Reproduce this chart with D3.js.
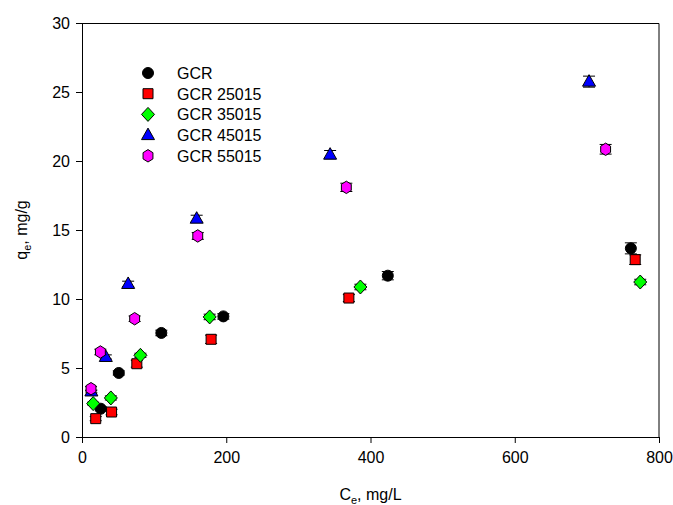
<!DOCTYPE html>
<html>
<head>
<meta charset="utf-8">
<script src="https://cdn.jsdelivr.net/npm/d3@7"></script>
<style>
    body { margin: 0; background: #fff; }
    #chart-area { width: 673px; height: 505px; }
    text { font-family: "Liberation Sans", Arial, sans-serif; fill: #000; }
</style>
</head>
<body>
<div id="chart-area"></div>
<script>
// series names (legend order)
const seriesNames = ["GCR", "GCR 25015", "GCR 35015", "GCR 45015", "GCR 55015"];

// Ce (mg/L) values
const gcrCe = [26, 51, 110, 196, 424, 761];
const gcr25Ce = [19, 41, 76, 179, 370, 767];
const gcr35Ce = [15.5, 40, 81, 177, 386, 774];
const gcr45Ce = [13, 33, 64, 159, 344, 703];
const gcr55Ce = [12.5, 25.5, 73, 160.5, 366.5, 726];

// qe (mg/g) values
const gcrQe = [2.05, 4.64, 7.54, 8.74, 11.69, 13.67];
const gcr25Qe = [1.33, 1.81, 5.31, 7.08, 10.07, 12.85];
const gcr35Qe = [2.42, 2.83, 5.92, 8.70, 10.87, 11.23];
const gcr45Qe = [3.3, 5.8, 11.09, 15.82, 20.46, 25.75];
const gcr55Qe = [3.50, 6.16, 8.57, 14.57, 18.09, 20.85];

// qe error (mg/g)
const gcrErr = [0.15, 0.15, 0.2, 0.2, 0.3, 0.4];
const gcr25Err = [0.15, 0.2, 0.25, 0.3, 0.25, 0.35];
const gcr35Err = [0.1, 0.15, 0.15, 0.2, 0.2, 0.2];
const gcr45Err = [0.1, 0.15, 0.2, 0.25, 0.3, 0.4];
const gcr55Err = [0.15, 0.2, 0.2, 0.25, 0.3, 0.35];

// axis ticks
const xTicks = [0, 200, 400, 600, 800];
const yTicks = [0, 5, 10, 15, 20, 25, 30];

class IsothermVis {
    constructor(_parentElement, _data) {
        this.parentElement = _parentElement;
        this.data = _data;
        this.initVis();
    }

    initVis() {
        const vis = this;

        // margins so the plot box lands where the original one does
        vis.margin = { top: 23, right: 14, bottom: 68, left: 82 };
        vis.width = 673 - vis.margin.left - vis.margin.right;
        vis.height = 505 - vis.margin.top - vis.margin.bottom;

        vis.svg = d3.select(`#${vis.parentElement}`)
            .append("svg")
            .attr("width", 673)
            .attr("height", 505)
            .append("g")
            .attr("transform", `translate(${vis.margin.left},${vis.margin.top})`);

        // scales
        vis.xScale = d3.scaleLinear().domain([0, 800]).range([0, vis.width]);
        vis.yScale = d3.scaleLinear().domain([0, 30]).range([vis.height, 0]);

        // frame (top and right)
        vis.svg.append("path")
            .attr("d", `M0,0.5H${vis.width}V${vis.height}`)
            .attr("fill", "none")
            .attr("stroke", "#000")
            .attr("stroke-width", 1);

        // axes
        vis.xAxis = vis.svg.append("g")
            .attr("transform", `translate(0,${vis.height})`)
            .call(d3.axisBottom(vis.xScale).tickValues(xTicks).tickSizeInner(6).tickSizeOuter(0).tickPadding(9));
        vis.yAxis = vis.svg.append("g")
            .call(d3.axisLeft(vis.yScale).tickValues(yTicks).tickSizeInner(6).tickSizeOuter(0).tickPadding(6));

        vis.svg.selectAll(".tick text")
            .attr("font-size", "16px")
            .attr("font-family", "'Liberation Sans', Arial, sans-serif");
        vis.svg.selectAll(".domain, .tick line").attr("stroke", "#000");

        // x axis label
        const xLabel = vis.svg.append("text")
            .attr("text-anchor", "middle")
            .attr("x", vis.width / 2)
            .attr("y", vis.height + 63)
            .attr("font-size", "16px");
        xLabel.append("tspan").text("C");
        xLabel.append("tspan").attr("font-size", "11px").attr("dy", 4).text("e");
        xLabel.append("tspan").attr("dy", -4).text(", mg/L");

        // y axis label
        const yLabel = vis.svg.append("text")
            .attr("text-anchor", "middle")
            .attr("transform", "rotate(-90)")
            .attr("x", -vis.height / 2)
            .attr("y", -55)
            .attr("font-size", "16px");
        yLabel.append("tspan").text("q");
        yLabel.append("tspan").attr("font-size", "11px").attr("dy", 4).text("e");
        yLabel.append("tspan").attr("dy", -4).text(", mg/g");

        vis.updateVis();
    }

    // marker path centred on 0,0
    shapePath(shape) {
        if (shape === "circle") {
            return d3.symbol().type(d3.symbolCircle).size(95)();
        }
        if (shape === "square") {
            return "M-5,-5H5V5H-5Z";
        }
        if (shape === "diamond") {
            return "M0,-7L6.5,0L0,7L-6.5,0Z";
        }
        if (shape === "triangle") {
            return "M0,-7L6.5,4.5H-6.5Z";
        }
        // hexagon, pointy top
        const r = 6.2;
        const pts = d3.range(6).map(i => {
            const a = (-90 + 60 * i) * Math.PI / 180;
            return [r * Math.cos(a) * 0.92, r * Math.sin(a)];
        });
        return "M" + pts.map(p => p.join(",")).join("L") + "Z";
    }

    updateVis() {
        const vis = this;

        // one group per series
        const groups = vis.svg.selectAll(".series")
            .data(vis.data)
            .enter()
            .append("g")
            .attr("class", "series");

        // error bars
        groups.each(function (s) {
            const g = d3.select(this);
            const pts = s.x.map((x, i) => ({ x: x, y: s.y[i], e: s.err[i] }));

            const bars = g.selectAll(".err")
                .data(pts)
                .enter()
                .append("g")
                .attr("class", "err")
                .attr("stroke", "#000")
                .attr("stroke-width", 1);

            bars.append("line")
                .attr("x1", d => vis.xScale(d.x))
                .attr("x2", d => vis.xScale(d.x))
                .attr("y1", d => vis.yScale(d.y - d.e))
                .attr("y2", d => vis.yScale(d.y + d.e));
            [-1, 1].forEach(sign => {
                bars.append("line")
                    .attr("x1", d => vis.xScale(d.x) - 6)
                    .attr("x2", d => vis.xScale(d.x) + 6)
                    .attr("y1", d => vis.yScale(d.y + sign * d.e))
                    .attr("y2", d => vis.yScale(d.y + sign * d.e));
            });

            // markers
            g.selectAll(".marker")
                .data(pts)
                .enter()
                .append("path")
                .attr("class", "marker")
                .attr("transform", d => `translate(${vis.xScale(d.x)},${vis.yScale(d.y)})`)
                .attr("d", vis.shapePath(s.shape))
                .attr("fill", s.color)
                .attr("stroke", "#000")
                .attr("stroke-width", 1);
        });

        // legend
        const legend = vis.svg.append("g")
            .attr("transform", "translate(66,50)");

        const rows = legend.selectAll(".legend-row")
            .data(vis.data)
            .enter()
            .append("g")
            .attr("class", "legend-row")
            .attr("transform", (d, i) => `translate(0,${i * 20.7})`);

        rows.append("path")
            .attr("d", d => vis.shapePath(d.shape))
            .attr("fill", d => d.color)
            .attr("stroke", "#000")
            .attr("stroke-width", 1);

        rows.append("text")
            .attr("x", 29)
            .attr("y", 6)
            .attr("font-size", "16px")
            .text(d => d.name);
    }
}

// build the series table from the arrays above
const seriesData = [
    { name: seriesNames[0], x: gcrCe, y: gcrQe, err: gcrErr, shape: "circle", color: "#000000" },
    { name: seriesNames[1], x: gcr25Ce, y: gcr25Qe, err: gcr25Err, shape: "square", color: "#ff0000" },
    { name: seriesNames[2], x: gcr35Ce, y: gcr35Qe, err: gcr35Err, shape: "diamond", color: "#00ff00" },
    { name: seriesNames[3], x: gcr45Ce, y: gcr45Qe, err: gcr45Err, shape: "triangle", color: "#0000ff" },
    { name: seriesNames[4], x: gcr55Ce, y: gcr55Qe, err: gcr55Err, shape: "hexagon", color: "#ff00ff" }
];

new IsothermVis("chart-area", seriesData);
</script>
</body>
</html>
